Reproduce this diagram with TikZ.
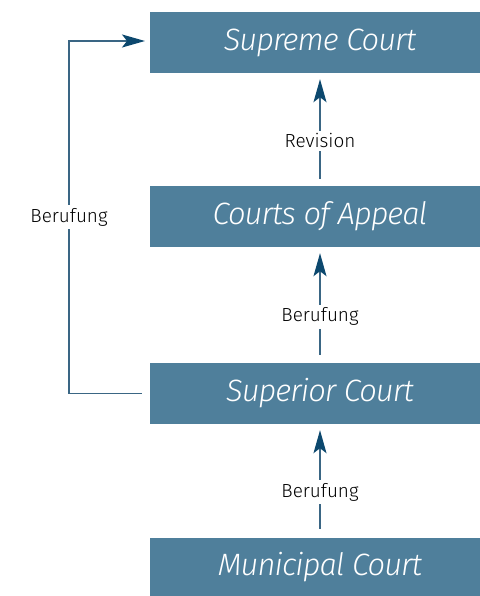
\documentclass[tikz,border=0pt]{standalone}
\usepackage{fontspec}
\setmainfont{Fira Sans Light}[ItalicFont={Fira Sans Light Italic}]
\newfontfamily\courtfont{Fira Sans Light Italic}[LetterSpace=-3]
\usetikzlibrary{arrows.meta}
\definecolor{boxblue}{RGB}{79,127,155}
\definecolor{linecol}{RGB}{58,102,132}
\definecolor{headcol}{RGB}{12,72,110}
\tikzset{
  court/.style={fill=boxblue, text=white, minimum width=340bp, minimum height=61bp,
    inner sep=0pt, font=\courtfont\fontsize{31}{33}\selectfont},
  conn/.style={draw=linecol, line width=1.4bp,
    -{Stealth[length=23bp,width=13bp,inset=5bp,color=headcol]}},
  lbl/.style={fill=white, text=black, inner sep=3bp, font=\fontsize{19}{21}\selectfont}
}
\begin{document}
\begin{tikzpicture}[x=1bp,y=-1bp]
\useasboundingbox (0,0) rectangle (480,596);
\node[court] (supreme) at (320,42.5) {Supreme Court};
\node[court] (appeal) at (320,216.5) {Courts of Appeal};
\node[court] (superior) at (320,393.5) {Superior Court};
\node[court, minimum height=58bp] (municipal) at (320,567) {Municipal Court};
\draw[conn, shorten <=7bp, shorten >=6bp] (appeal.north) -- node[lbl, pos=0.4] {Revision} (supreme.south);
\draw[conn, shorten <=8bp, shorten >=6bp] (superior.north) -- node[lbl, pos=0.4] {Berufung} (appeal.south);
\draw[conn, shorten <=9bp, shorten >=6bp] (municipal.north) -- node[lbl, pos=0.4] {Berufung} (superior.south);
\coordinate (sw) at ([xshift=-8bp]superior.west);
\coordinate (c1) at (69,393.5);
\coordinate (c2) at (69,41);
\coordinate (se) at (145,41);
\draw[conn] (sw) -- (c1) -- node[lbl, pos=0.5] {Berufung} (c2) -- (se);
\end{tikzpicture}
\end{document}
